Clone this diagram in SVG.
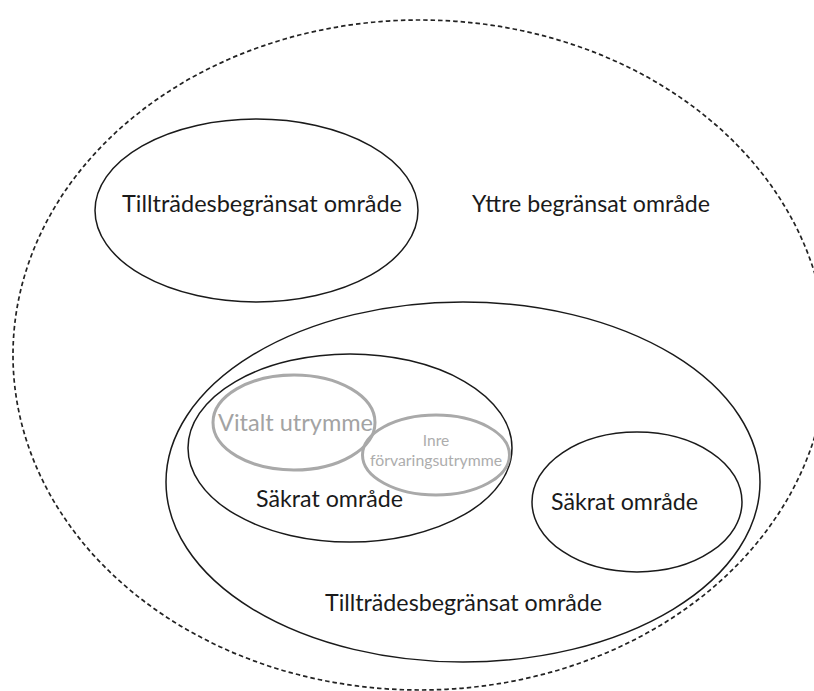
<svg xmlns="http://www.w3.org/2000/svg" width="814" height="691" viewBox="0 0 814 691">
  <style>
    .zone { fill: none; stroke: #1a1a1a; stroke-width: 1.5; }
    .outer { fill: none; stroke: #222222; stroke-width: 1.7; stroke-dasharray: 4.5 3; }
    .inner { fill: none; stroke: #a9a9a9; stroke-width: 3; }
    .lbl { font-family: Lato, "Open Sans", "Liberation Sans", sans-serif; font-size: 22.5px; fill: #1a1a1a; }
    .lbl-grey { font-family: Lato, "Open Sans", "Liberation Sans", sans-serif; font-size: 22.5px; fill: #a3a3a3; }
    .lbl-small { font-family: Lato, "Open Sans", "Liberation Sans", sans-serif; font-size: 15.5px; fill: #adadad; }
  </style>
  <rect width="814" height="691" fill="#ffffff"/>

  <!-- outer restricted perimeter -->
  <g id="yttre">
    <ellipse class="outer" cx="420" cy="355" rx="407" ry="335"/>
    <text class="lbl" x="472" y="212" textLength="238" lengthAdjust="spacingAndGlyphs">Yttre begränsat område</text>
  </g>

  <!-- separate access-controlled zone, upper left -->
  <g id="tilltrade-1">
    <ellipse class="zone" cx="256.5" cy="210.5" rx="161.5" ry="91.5"/>
    <text class="lbl" x="122" y="212" textLength="280" lengthAdjust="spacingAndGlyphs">Tillträdesbegränsat område</text>
  </g>

  <!-- large access-controlled zone -->
  <g id="tilltrade-2">
    <ellipse class="zone" cx="463" cy="482" rx="297" ry="180"/>
    <text class="lbl" x="325" y="611" textLength="277" lengthAdjust="spacingAndGlyphs">Tillträdesbegränsat område</text>
  </g>

  <!-- secured zone with inner spaces -->
  <g id="sakrat-1">
    <ellipse class="zone" cx="350" cy="448" rx="162" ry="94"/>
    <text class="lbl" x="256" y="507" textLength="147" lengthAdjust="spacingAndGlyphs">Säkrat område</text>
  </g>

  <!-- secured zone, right -->
  <g id="sakrat-2">
    <ellipse class="zone" cx="637" cy="502" rx="105" ry="70"/>
    <text class="lbl" x="551" y="510" textLength="147" lengthAdjust="spacingAndGlyphs">Säkrat område</text>
  </g>

  <!-- vital space -->
  <g id="vitalt">
    <ellipse class="inner" cx="294" cy="422.5" rx="81" ry="47.5"/>
    <text class="lbl-grey" x="218" y="431" textLength="155" lengthAdjust="spacingAndGlyphs">Vitalt utrymme</text>
  </g>

  <!-- inner storage space -->
  <g id="inre">
    <ellipse class="inner" cx="436" cy="455" rx="73.5" ry="40"/>
    <text class="lbl-small" x="436" y="446" text-anchor="middle">Inre</text>
    <text class="lbl-small" x="370" y="466" textLength="132" lengthAdjust="spacingAndGlyphs">förvaringsutrymme</text>
  </g>

  <g id="connectors"/>
</svg>
